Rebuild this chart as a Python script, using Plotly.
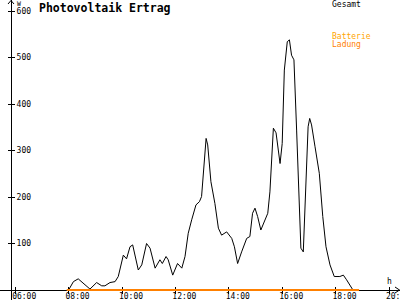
import plotly.graph_objects as go

# ---- data (hours of day, Watt) ----
gesamt_t = [8.00, 8.18, 8.36, 8.55, 8.74, 8.80, 9.05, 9.24, 9.36, 9.55, 9.74, 9.86,
            10.05, 10.17, 10.30, 10.40, 10.61, 10.74, 10.92, 11.05, 11.24, 11.42, 11.51,
            11.65, 11.73, 11.90, 12.08, 12.24, 12.36, 12.48, 12.61, 12.77, 12.90, 12.98,
            13.15, 13.21, 13.33, 13.48, 13.61, 13.73, 13.92, 14.11, 14.21, 14.33, 14.48,
            14.67, 14.79, 14.89, 14.98, 15.08, 15.20, 15.33, 15.46, 15.54, 15.67, 15.77,
            15.85, 15.92, 16.00, 16.08, 16.19, 16.27, 16.35, 16.44, 16.54, 16.64, 16.70,
            16.79, 16.89, 16.97, 17.03, 17.10, 17.23, 17.39, 17.52, 17.64, 17.79, 17.95,
            18.16, 18.29, 18.41, 18.54, 18.65]
gesamt_w = [0, 18, 24, 14, 4, 2, 16, 9, 9, 16, 18, 29,
            75, 67, 93, 97, 43, 54, 100, 90, 47, 65, 57,
            72, 65, 32, 57, 47, 72, 122, 151, 183, 190, 201,
            326, 312, 233, 186, 133, 118, 125, 111, 93, 57, 82,
            111, 115, 165, 176, 158, 129, 147, 165, 211, 348, 338,
            297, 272, 315, 473, 534, 538, 505, 495, 344, 186, 90,
            82, 237, 351, 369, 355, 308, 251, 158, 93, 54, 29,
            29, 32, 22, 11, 0]
ladung_t = [7.93, 18.88]
ladung_w = [0, 0]
batterie_t = [None]
batterie_w = [None]

x_ticks = [6, 8, 10, 12, 14, 16, 18, 20]
x_labels = ["06:00", "08:00", "10:00", "12:00", "14:00", "16:00", "18:00", "20:00"]
y_ticks = [100, 200, 300, 400, 500, 600]
y_labels = ["100", "200", "300", "400", "500", "600"]

W, H = 400, 300
X_RANGE = [5.4307, 20.412]
Y_RANGE = [-21.5, 623.7]
x_axis_pos = (0 - Y_RANGE[0]) / (Y_RANGE[1] - Y_RANGE[0])
y_axis_pos = 11 / W

MONO = "DejaVu Sans Mono"
BLACK = "#000000"
ORANGE_B = "#ffa500"
ORANGE_L = "#ff8000"

fig = go.Figure()
fig.add_trace(go.Scatter(x=gesamt_t, y=gesamt_w, mode="lines",
                         line=dict(color=BLACK, width=1), name="Gesamt",
                         xaxis="x", yaxis="y"))
fig.add_trace(go.Scatter(x=ladung_t, y=ladung_w, mode="lines",
                         line=dict(color=ORANGE_L, width=2), name="Ladung",
                         xaxis="x3", yaxis="y"))
fig.add_trace(go.Scatter(x=batterie_t, y=batterie_w, mode="lines",
                         line=dict(color=ORANGE_B, width=1), name="Batterie",
                         xaxis="x2", yaxis="y2"))

tickfont = dict(family=MONO, size=8, color=BLACK)
common_x = dict(range=X_RANGE, tickvals=x_ticks, showgrid=False, zeroline=False,
                anchor="free", position=x_axis_pos, ticklen=3, tickwidth=1,
                tickcolor=BLACK, fixedrange=True, automargin=False,
                layer="below traces")
common_y = dict(range=Y_RANGE, tickvals=y_ticks, showgrid=False, zeroline=False,
                anchor="free", position=y_axis_pos, ticklen=3, tickwidth=1,
                tickcolor=BLACK, fixedrange=True, automargin=False,
                layer="below traces")

fig.update_layout(
    width=W, height=H, autosize=False,
    margin=dict(l=0, r=0, t=0, b=0, pad=0, autoexpand=False),
    paper_bgcolor="white", plot_bgcolor="white",
    showlegend=False,
    # labelled axis: line + labels, no ticks (ticks come from the overlay axes)
    xaxis=dict(**common_x, side="bottom", ticks="", ticktext=x_labels,
               showticklabels=True, tickfont=tickfont, showline=True,
               linecolor=BLACK, linewidth=1, ticklabelshift=9, ticklabelstandoff=-2,
               ticklabeloverflow="allow", domain=[0, 1]),
    xaxis2=dict(**common_x, side="top", ticks="outside", overlaying="x",
                showticklabels=False, showline=False),
    xaxis3=dict(**common_x, side="bottom", ticks="outside", overlaying="x",
                showticklabels=False, showline=False),
    yaxis=dict(**common_y, side="right", ticks="outside", ticktext=y_labels,
               showticklabels=True, tickfont=tickfont, showline=True,
               linecolor=BLACK, linewidth=1, ticklabelstandoff=0, domain=[0, 1]),
    yaxis2=dict(**common_y, side="left", ticks="outside", overlaying="y",
                showticklabels=False, showline=False),
    title=dict(text="<b>Photovoltaik Ertrag</b>", font=dict(family=MONO, size=11.5, color=BLACK),
               x=39 / W, xanchor="left", xref="paper", y=1 - 8 / H, yanchor="middle",
               yref="container", automargin=False),
)

def px(xp, yp):
    return xp / W, 1 - yp / H

annots = [
    ("Gesamt", 330, 4.5, BLACK),
    ("Batterie", 330, 36, ORANGE_B),
    ("Ladung", 330, 44, ORANGE_L),
    ("h", 385, 281, BLACK),
]
for txt, xp, yp, col in annots:
    ax, ay = px(xp, yp)
    fig.add_annotation(text=txt, x=ax, y=ay, xref="paper", yref="paper",
                       xanchor="left", yanchor="middle", showarrow=False,
                       font=dict(family=MONO, size=8, color=col))
ax, ay = px(15, 3.5)
fig.add_annotation(text="W", x=ax, y=ay, xref="paper", yref="paper",
                   xanchor="left", yanchor="middle", showarrow=False,
                   font=dict(family=MONO, size=6.5, color=BLACK))

# axis arrow heads
def path(points):
    s = ""
    for i, (xp, yp) in enumerate(points):
        a, b = px(xp, yp)
        s += ("M" if i == 0 else "L") + f"{a},{b} "
    return s

fig.add_shape(type="path", xref="paper", yref="paper",
              path=path([(8, 4), (11, 0.5), (14, 4)]), line=dict(color=BLACK, width=1))
fig.add_shape(type="path", xref="paper", yref="paper",
              path=path([(395, 287), (399.5, 290), (395, 293)]), line=dict(color=BLACK, width=1))

fig.write_html("out.html")
